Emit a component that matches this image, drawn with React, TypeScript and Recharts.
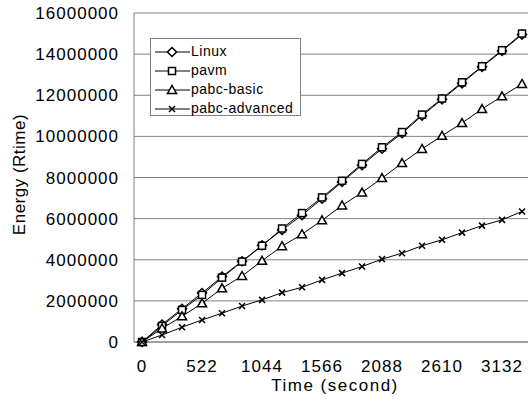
import React from 'react';
import { LineChart, Line, XAxis, YAxis, CartesianGrid, Legend, Label } from 'recharts';

// sampling times (seconds), one point every 174 s
const times = [0, 174, 348, 522, 696, 870, 1044, 1218, 1392, 1566, 1740, 1914, 2088, 2262, 2436, 2610, 2784, 2958, 3132, 3306];
const xTicks = [0, 522, 1044, 1566, 2088, 2610, 3132];
const yTicks = [0, 2000000, 4000000, 6000000, 8000000, 10000000, 12000000, 14000000, 16000000];

const linux = [0, 850000, 1620000, 2380000, 3180000, 3930000, 4700000, 5450000, 6170000, 6970000, 7780000, 8600000, 9400000, 10150000, 11000000, 11800000, 12580000, 13380000, 14150000, 14950000];
const pavm = [0, 780000, 1560000, 2290000, 3130000, 3910000, 4680000, 5520000, 6270000, 7030000, 7840000, 8660000, 9470000, 10210000, 11060000, 11840000, 12630000, 13410000, 14190000, 15000000];
const pabcBasic = [0, 660000, 1250000, 1880000, 2610000, 3210000, 3950000, 4660000, 5240000, 5920000, 6640000, 7270000, 7970000, 8700000, 9390000, 10030000, 10650000, 11330000, 11950000, 12550000];
const pabcAdvanced = [0, 340000, 720000, 1070000, 1400000, 1750000, 2050000, 2400000, 2660000, 3020000, 3350000, 3670000, 4030000, 4320000, 4680000, 4970000, 5320000, 5660000, 5940000, 6350000];

const data = times.map((t, i) => ({
  time: t,
  linux: linux[i],
  pavm: pavm[i],
  pabcBasic: pabcBasic[i],
  pabcAdvanced: pabcAdvanced[i],
}));

const FONT = '"Liberation Sans", Arial, sans-serif';

type Shape = 'diamond' | 'square' | 'triangle' | 'cross';

const marker = (shape: Shape, cx: number, cy: number, key?: string) => {
  const sw = 1.5;
  if (shape === 'diamond') {
    const r = 4.5;
    return <path key={key} d={`M${cx},${cy - r}L${cx + r},${cy}L${cx},${cy + r}L${cx - r},${cy}Z`} fill="#fff" stroke="#000" strokeWidth={sw} />;
  }
  if (shape === 'square') {
    const r = 3.5;
    return <rect key={key} x={cx - r} y={cy - r} width={r * 2} height={r * 2} fill="#fff" stroke="#000" strokeWidth={sw} />;
  }
  if (shape === 'triangle') {
    return <path key={key} d={`M${cx},${cy - 4.5}L${cx + 4.5},${cy + 3.5}L${cx - 4.5},${cy + 3.5}Z`} fill="#fff" stroke="#000" strokeWidth={sw} />;
  }
  const r = 3;
  return <path key={key} d={`M${cx - r},${cy - r}L${cx + r},${cy + r}M${cx + r},${cy - r}L${cx - r},${cy + r}`} stroke="#000" strokeWidth={sw} fill="none" />;
};

const dotFor = (shape: Shape) => (p: any) =>
  p.cx == null || p.cy == null ? <g key={`${shape}-${p.index}`} /> : marker(shape, p.cx, p.cy, `${shape}-${p.index}`);

const series: { key: string; name: string; shape: Shape }[] = [
  { key: 'linux', name: 'Linux', shape: 'diamond' },
  { key: 'pavm', name: 'pavm', shape: 'square' },
  { key: 'pabcBasic', name: 'pabc-basic', shape: 'triangle' },
  { key: 'pabcAdvanced', name: 'pabc-advanced', shape: 'cross' },
];

const LegendBox = () => (
  <div
    style={{
      width: 151,
      height: 78,
      boxSizing: 'border-box',
      border: '1px solid #808080',
      background: '#fff',
      paddingTop: 3,
      fontFamily: FONT,
      fontSize: 14,
      letterSpacing: 0.5,
      color: '#000',
    }}
  >
    {series.map((s) => (
      <div key={s.key} style={{ height: 19, display: 'flex', alignItems: 'center' }}>
        <svg width={40} height={14} style={{ display: 'block' }}>
          <line x1={4} y1={7} x2={39} y2={7} stroke="#000" strokeWidth={1} />
          {marker(s.shape, 21, 7)}
        </svg>
        <span style={{ lineHeight: '19px' }}>{s.name}</span>
      </div>
    ))}
  </div>
);

export default function App() {
  return (
    <div style={{ position: 'absolute', left: 0, top: 0, width: 528, height: 404, overflow: 'hidden', background: '#fff' }}>
      <LineChart width={528} height={404} data={data} margin={{ top: 13, right: 0, left: 0, bottom: 0 }}>
        <CartesianGrid vertical={false} stroke="#808080" strokeWidth={1} />
        <XAxis
          dataKey="time"
          type="number"
          domain={[-70, 3358]}
          ticks={xTicks}
          allowDataOverflow
          height={62}
          tickSize={0}
          tickMargin={18}
          axisLine={{ stroke: '#808080' }}
          tick={{ fill: '#000', fontSize: 17, fontFamily: FONT, letterSpacing: 1 }}
        >
          <Label
            content={({ viewBox }: any) => (
              <text
                x={viewBox.x + viewBox.width / 2 + 4}
                y={viewBox.y + 49}
                textAnchor="middle"
                fill="#000"
                fontSize={17}
                fontFamily={FONT}
                letterSpacing={1.5}
              >
                Time (second)
              </text>
            )}
          />
        </XAxis>
        <YAxis
          type="number"
          domain={[0, 16000000]}
          ticks={yTicks}
          width={134}
          tickSize={0}
          tickMargin={15}
          axisLine={{ stroke: '#808080' }}
          tick={{ fill: '#000', fontSize: 17, fontFamily: FONT, letterSpacing: 1 }}
        >
          <Label
            content={({ viewBox }: any) => {
              const cy = viewBox.y + viewBox.height / 2 - 3;
              return (
                <text
                  x={19}
                  y={cy}
                  transform={`rotate(-90 19 ${cy})`}
                  textAnchor="middle"
                  dominantBaseline="central"
                  fill="#000"
                  fontSize={17}
                  fontFamily={FONT}
                  letterSpacing={0.5}
                >
                  Energy (Rtime)
                </text>
              );
            }}
          />
        </YAxis>
        <Legend
          layout="vertical"
          align="center"
          verticalAlign="middle"
          wrapperStyle={{ left: 150, top: 38, width: 151, height: 78 }}
          content={() => <LegendBox />}
        />
        {series.map((s) => (
          <Line
            key={s.key}
            dataKey={s.key}
            name={s.name}
            stroke="#000"
            strokeWidth={1}
            dot={dotFor(s.shape)}
            activeDot={false}
            isAnimationActive={false}
          />
        ))}
      </LineChart>
    </div>
  );
}
